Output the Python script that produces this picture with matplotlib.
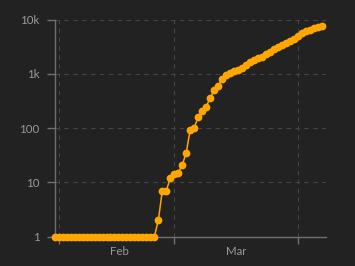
import matplotlib
matplotlib.use("Agg")
import matplotlib.pyplot as plt
import matplotlib.dates as mdates
import matplotlib.ticker as mticker
import pandas as pd

start_date = "2020-01-31"
cases = [1] * 26 + [
    2, 7, 7, 12,
    14, 15, 21, 35, 94, 101, 161, 203, 248, 355, 500, 599, 814, 961, 1022,
    1103, 1190, 1279, 1439, 1639, 1763, 1934, 2046, 2286, 2526, 2840, 3069,
    3447, 3700, 4028, 4435,
    4947, 5568, 6131, 6443, 6830, 7206, 7693,
]
dates = pd.date_range(start_date, periods=len(cases), freq="D")

y_ticks = [1, 10, 100, 1000, 10000]
y_labels = ["1", "10", "100", "1k", "10k"]
month_ticks = ["2020-02-01", "2020-03-01", "2020-04-01"]
month_label_pos = ["2020-02-16 05:00", "2020-03-16 12:00"]
month_labels = ["Feb", "Mar"]

BG = "#222222"
ORANGE = "#FFA600"
TEXT = "#9a9a9a"
SPINE = "#707070"
GRID = "#454545"

plt.rcParams["font.family"] = ["Lato", "DejaVu Sans"]

fig = plt.figure(figsize=(3.55, 2.66), dpi=100, facecolor=BG)
ax = fig.add_axes([54.7 / 355, 1 - 236.7 / 266, (325.7 - 54.7) / 355, (236.7 - 19.5) / 266])
ax.set_facecolor(BG)

ax.plot(dates, cases, color=ORANGE, linewidth=1.1, marker="o", markersize=5.6,
        markeredgewidth=0, zorder=3, clip_on=False)

ax.set_yscale("log")
ax.set_ylim(1, 10000)
ax.set_xlim(pd.Timestamp("2020-01-31"), pd.Timestamp("2020-04-08"))

ax.yaxis.set_major_locator(mticker.FixedLocator(y_ticks))
ax.yaxis.set_major_formatter(mticker.FixedFormatter(y_labels))
ax.yaxis.set_minor_locator(mticker.NullLocator())

ax.xaxis.set_major_locator(mticker.FixedLocator([mdates.date2num(pd.Timestamp(d)) for d in month_ticks]))
ax.xaxis.set_major_formatter(mticker.NullFormatter())
ax.xaxis.set_minor_locator(mticker.FixedLocator([mdates.date2num(pd.Timestamp(d)) for d in month_label_pos]))
ax.xaxis.set_minor_formatter(mticker.FixedFormatter(month_labels))

ax.tick_params(axis="x", which="major", length=5, width=1, color=SPINE)
ax.tick_params(axis="x", which="minor", length=0, pad=7, labelsize=8.3, labelcolor=TEXT)
ax.tick_params(axis="y", which="major", length=6, width=1, color=SPINE, pad=5,
               labelsize=8.3, labelcolor=TEXT)

for s in ["top", "right"]:
    ax.spines[s].set_visible(False)
for s in ["left", "bottom"]:
    ax.spines[s].set_color(SPINE)
    ax.spines[s].set_linewidth(1)

ax.grid(True, which="major", color=GRID, linestyle=(0, (4, 4)), linewidth=0.8)
ax.set_axisbelow(True)

fig.savefig("out.png", dpi=100, facecolor=BG)
